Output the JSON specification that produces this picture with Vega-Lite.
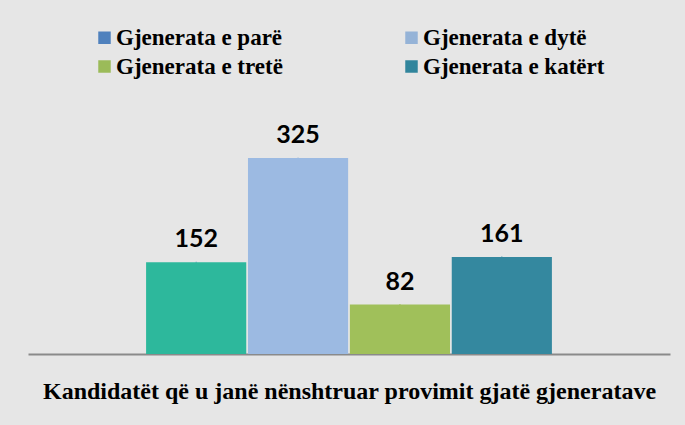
{
  "$schema": "https://vega.github.io/schema/vega-lite/v6.json",
  "width": 642,
  "height": 211,
  "autosize": {"type": "none"},
  "padding": {"left": 28, "top": 143, "right": 15, "bottom": 71},
  "background": "#E6E6E6",
  "data": {
    "values": [
      {"cat": "Kandidatët", "gen": "Gjenerata e parë", "value": 152},
      {"cat": "Kandidatët", "gen": "Gjenerata e dytë", "value": 325},
      {"cat": "Kandidatët", "gen": "Gjenerata e tretë", "value": 82},
      {"cat": "Kandidatët", "gen": "Gjenerata e katërt", "value": 161}
    ]
  },
  "encoding": {
    "x": {
      "field": "cat",
      "type": "nominal",
      "scale": {"paddingInner": 0, "paddingOuter": 0.291},
      "axis": {
        "title": "Kandidatët që u janë nënshtruar provimit gjatë gjeneratave",
        "labels": false,
        "ticks": false,
        "domainColor": "#8A8A8A",
        "domainWidth": 2,
        "titleFont": "Liberation Serif",
        "titleFontSize": 24,
        "titleFontWeight": "bold",
        "titleColor": "#000000",
        "titlePadding": 25
      }
    },
    "xOffset": {
      "field": "gen",
      "type": "nominal",
      "sort": null,
      "scale": {"paddingInner": 0.017, "paddingOuter": 0}
    },
    "y": {
      "field": "value",
      "type": "quantitative",
      "scale": {"domain": [0, 350]},
      "axis": null
    }
  },
  "layer": [
    {
      "mark": {"type": "square", "size": 1, "opacity": 1},
      "encoding": {
        "color": {
          "field": "gen",
          "type": "nominal",
          "sort": null,
          "scale": {
            "domain": ["Gjenerata e parë", "Gjenerata e tretë", "Gjenerata e dytë", "Gjenerata e katërt"],
            "range": ["#4F81BD", "#9BBB59", "#95B3D7", "#31859C"]
          },
          "legend": {
            "title": null,
            "orient": "none",
            "legendX": 65,
            "legendY": -117,
            "padding": 0,
            "columns": 2,
            "columnPadding": 117,
            "rowPadding": 5,
            "symbolType": "square",
            "symbolSize": 156,
            "symbolOpacity": 1,
            "symbolStrokeWidth": 0,
            "labelFont": "Liberation Serif",
            "labelFontSize": 23,
            "labelFontWeight": "bold",
            "labelColor": "#000000",
            "labelOffset": 0,
            "labelLimit": 300
          }
        }
      }
    },
    {
      "mark": {"type": "bar"},
      "encoding": {
        "fill": {
          "field": "gen",
          "type": "nominal",
          "sort": null,
          "scale": {
            "domain": ["Gjenerata e parë", "Gjenerata e dytë", "Gjenerata e tretë", "Gjenerata e katërt"],
            "range": ["#2DB89C", "#9CBAE2", "#A0C05A", "#34889F"]
          },
          "legend": null
        }
      }
    },
    {
      "mark": {"type": "text", "baseline": "alphabetic", "dy": -15, "font": "Lato", "fontSize": 25, "fontWeight": "bold", "color": "#000000"},
      "encoding": {"text": {"field": "value", "type": "quantitative"}}
    }
  ],
  "config": {"view": {"stroke": null}}
}
